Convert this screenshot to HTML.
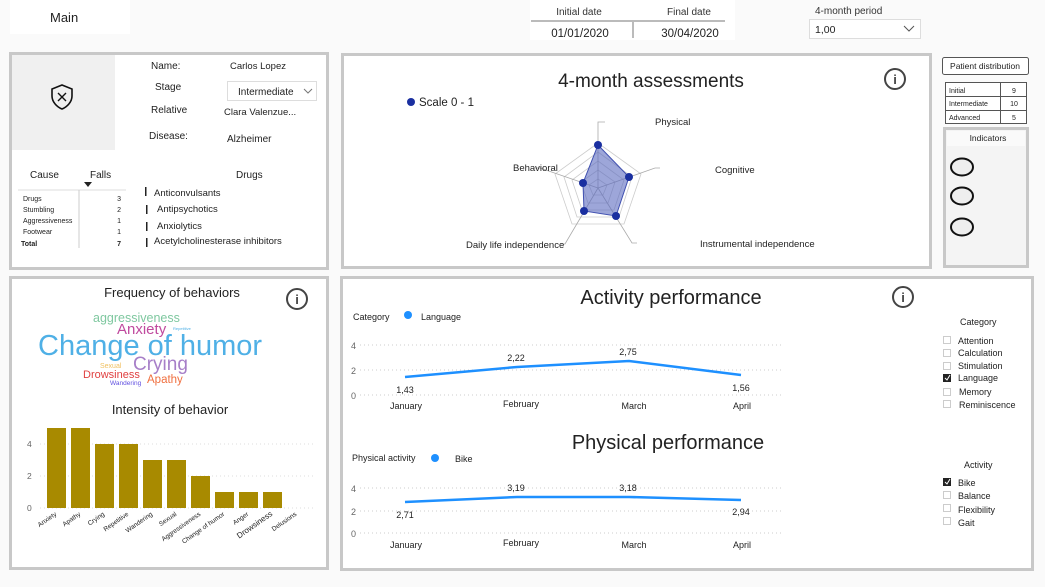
<!DOCTYPE html>
<html><head><meta charset="utf-8"><style>
html,body{margin:0;padding:0;background:#fafafa;}
svg{display:block;font-family:"Liberation Sans",sans-serif;}
</style></head><body>
<svg width="1045" height="587" viewBox="0 0 1045 587" xmlns="http://www.w3.org/2000/svg">
<rect width="1045" height="587" fill="#fafafa"/>
<!-- top bar -->
<rect x="10" y="0" width="120" height="34" fill="#fff"/>
<text x="50" y="22" font-size="13" fill="#222">Main</text>
<rect x="530" y="0" width="205" height="40" fill="#fff"/>
<text x="579" y="15" font-size="10" fill="#333" text-anchor="middle">Initial date</text>
<text x="689" y="15" font-size="10" fill="#333" text-anchor="middle">Final date</text>
<line x1="531" y1="21" x2="725" y2="21" stroke="#bbb" stroke-width="2"/>
<line x1="633" y1="20" x2="633" y2="38" stroke="#bbb" stroke-width="2"/>
<text x="580" y="37" font-size="11.5" fill="#222" text-anchor="middle">01/01/2020</text>
<text x="690" y="37" font-size="11.5" fill="#222" text-anchor="middle">30/04/2020</text>
<text x="815" y="14" font-size="10" fill="#333">4-month period</text>
<rect x="809.5" y="19.5" width="111" height="19" fill="#fff" stroke="#ddd"/>
<text x="815" y="33" font-size="10.5" fill="#222">1,00</text>
<polyline points="904,26 909,31 914,26" fill="none" stroke="#555" stroke-width="1"/>

<!-- panel borders -->
<g fill="#fff" stroke="#c8c8c8" stroke-width="3">
<rect x="10.5" y="53.5" width="317" height="215"/>
<rect x="342.5" y="54.5" width="588" height="213"/>
<rect x="10.5" y="277.5" width="317" height="291"/>
<rect x="341.5" y="277.5" width="691" height="292"/>
<rect x="944.5" y="128.5" width="83" height="138" fill="#f4f4f4"/>
</g>

<!-- patient info -->
<rect x="12" y="55" width="103" height="95" fill="#f0f0f0"/>
<path d="M62 85 L52 89 V96 C52 102 57 107 62 109 C67 107 72 102 72 96 V89 Z" fill="none" stroke="#111" stroke-width="1.6"/>
<path d="M58 93 L66 101 M66 93 L58 101" stroke="#111" stroke-width="1.4"/>
<g font-size="10" fill="#222">
<text x="151" y="69">Name:</text>
<text x="230" y="69" font-size="9.5">Carlos Lopez</text>
<text x="155" y="90">Stage</text>
<rect x="227.5" y="81.5" width="89" height="19" fill="#fff" stroke="#ddd"/>
<text x="238" y="95">Intermediate</text>
<polyline points="304,89 308,93 312,89" fill="none" stroke="#777" stroke-width="1"/>
<text x="151" y="113">Relative</text>
<text x="224" y="115" font-size="9.5">Clara Valenzue...</text>
<text x="149" y="139">Disease:</text>
<text x="227" y="142">Alzheimer</text>
</g>
<!-- falls table -->
<g fill="#222">
<text x="30" y="178" font-size="10">Cause</text>
<text x="90" y="178" font-size="10">Falls</text>
<path d="M84 182 L92 182 L88 187 Z"/>
<line x1="18" y1="190" x2="126" y2="190" stroke="#ddd"/>
<line x1="79" y1="190" x2="79" y2="248" stroke="#ccc"/>
<g font-size="7">
<text x="23" y="201">Drugs</text><text x="121" y="201" text-anchor="end">3</text>
<text x="23" y="212">Stumbling</text><text x="121" y="212" text-anchor="end">2</text>
<text x="23" y="223">Aggressiveness</text><text x="121" y="223" text-anchor="end">1</text>
<text x="23" y="234">Footwear</text><text x="121" y="234" text-anchor="end">1</text>
<text x="21" y="246" font-weight="bold">Total</text><text x="121" y="246" text-anchor="end" font-weight="bold">7</text>
</g>
<text x="236" y="178" font-size="10">Drugs</text>
<g font-size="9.5">
<rect x="145" y="187" width="1.5" height="9"/><text x="154" y="196">Anticonvulsants</text>
<rect x="146" y="205" width="1.5" height="9"/><text x="157" y="212">Antipsychotics</text>
<rect x="146" y="222" width="1.5" height="9"/><text x="157" y="229">Anxiolytics</text>
<rect x="146" y="238" width="1.5" height="9"/><text x="154" y="244">Acetylcholinesterase inhibitors</text>
</g>
</g>

<!-- radar -->
<text x="651" y="87" font-size="19" fill="#222" text-anchor="middle">4-month assessments</text>
<circle cx="895" cy="79" r="10" fill="none" stroke="#444" stroke-width="2"/>
<text x="895" y="84" font-size="13" font-weight="bold" fill="#444" text-anchor="middle">i</text>
<circle cx="411" cy="102" r="4" fill="#1a2fa0"/>
<text x="419" y="106" font-size="11.5" fill="#222">Scale 0 - 1</text>
<g fill="none" stroke="#ccc" stroke-width="0.8">
<polygon points="598,143 641,174 624,224 572,224 555,174"/>
<polygon points="598,152 632,177 619,217 577,217 564,177"/>
<polygon points="598,161 624,180 614,210 582,210 572,180"/>
<polygon points="598,170 615,182 608,203 588,203 581,182"/>
<polygon points="598,179 607,185 603,195 593,195 589,185"/>
</g>
<g fill="none" stroke="#aaa" stroke-width="0.8">
<polyline points="598,188 598,122 605,122"/>
<polyline points="598,188 655,168 660,168"/>
<polyline points="598,188 632,243 637,243"/>
<polyline points="598,188 565,244 560,244"/>
<polyline points="598,188 540,168 535,168"/>
</g>
<polygon points="598,145 629,177 616,216 584,211 583,183" fill="#5c6bc0" fill-opacity="0.6" stroke="#4050b0" stroke-width="1"/>
<g fill="#1a2fa0"><circle cx="598" cy="145" r="4"/><circle cx="629" cy="177" r="4"/><circle cx="616" cy="216" r="4"/><circle cx="584" cy="211" r="4"/><circle cx="583" cy="183" r="4"/></g>
<g font-size="9.5" fill="#222">
<text x="655" y="125">Physical</text>
<text x="715" y="173">Cognitive</text>
<text x="700" y="247">Instrumental independence</text>
<text x="466" y="248">Daily life independence</text>
<text x="513" y="171">Behavioral</text>
</g>

<!-- right side -->
<rect x="942.5" y="57.5" width="86" height="17" rx="2" fill="#fff" stroke="#555"/>
<text x="985" y="69" font-size="8.5" fill="#222" text-anchor="middle">Patient distribution</text>
<g stroke="#555" fill="#fff"><rect x="945.5" y="82.5" width="81" height="41"/></g>
<line x1="946" y1="96.5" x2="1026" y2="96.5" stroke="#555"/>
<line x1="946" y1="110.5" x2="1026" y2="110.5" stroke="#555"/>
<line x1="1000.5" y1="83" x2="1000.5" y2="123" stroke="#555"/>
<g font-size="7" fill="#222">
<text x="949" y="93">Initial</text><text x="1014" y="93" text-anchor="middle">9</text>
<text x="949" y="106">Intermediate</text><text x="1014" y="106" text-anchor="middle">10</text>
<text x="949" y="120">Advanced</text><text x="1014" y="120" text-anchor="middle">5</text>
</g>
<rect x="947" y="131" width="78" height="15" fill="#fafafa"/>
<text x="988" y="141" font-size="8.5" fill="#222" text-anchor="middle">Indicators</text>
<g fill="#eee" stroke="#111" stroke-width="2">
<ellipse cx="962" cy="167" rx="11" ry="8.5"/>
<ellipse cx="962" cy="196" rx="11" ry="8.5"/>
<ellipse cx="962" cy="227" rx="11" ry="8.5"/>
</g>

<!-- word cloud -->
<text x="172" y="297" font-size="13" fill="#222" text-anchor="middle">Frequency of behaviors</text>
<circle cx="297" cy="299" r="10" fill="none" stroke="#444" stroke-width="2"/>
<text x="297" y="304" font-size="13" font-weight="bold" fill="#444" text-anchor="middle">i</text>
<text x="93" y="322" font-size="12.5" fill="#7fc8a0">aggressiveness</text>
<text x="117" y="334" font-size="15" fill="#c04a9e">Anxiety</text>
<text x="173" y="330" font-size="4" fill="#4fb0e6">Repetitive</text>
<text x="38" y="355" font-size="29" fill="#4fb0e6">Change of humor</text>
<text x="133" y="370" font-size="19" fill="#a77fc8">Crying</text>
<text x="100" y="368" font-size="7" fill="#f0c060">Sexual</text>
<text x="83" y="378" font-size="11" fill="#e04040">Drowsiness</text>
<text x="147" y="383" font-size="11.5" fill="#f07040">Apathy</text>
<text x="110" y="385" font-size="6.5" fill="#6050e0">Wandering</text>

<!-- bar chart -->
<text x="170" y="414" font-size="13" fill="#222" text-anchor="middle">Intensity of behavior</text>
<g stroke="#ddd" stroke-dasharray="1,3"><line x1="40" y1="444" x2="315" y2="444"/><line x1="40" y1="476" x2="315" y2="476"/><line x1="40" y1="508" x2="315" y2="508"/></g>
<g font-size="8.5" fill="#666"><text x="27" y="447">4</text><text x="27" y="479">2</text><text x="27" y="511">0</text></g>
<g fill="#a88a00">
<rect x="47" y="428" width="19" height="80"/>
<rect x="71" y="428" width="19" height="80"/>
<rect x="95" y="444" width="19" height="64"/>
<rect x="119" y="444" width="19" height="64"/>
<rect x="143" y="460" width="19" height="48"/>
<rect x="167" y="460" width="19" height="48"/>
<rect x="191" y="476" width="19" height="32"/>
<rect x="215" y="492" width="19" height="16"/>
<rect x="239" y="492" width="19" height="16"/>
<rect x="263" y="492" width="19" height="16"/>
</g>
<g font-size="6.5" fill="#222" text-anchor="end">
<text transform="translate(57,515) rotate(-35)">Anxiety</text>
<text transform="translate(81,515) rotate(-35)">Apathy</text>
<text transform="translate(105,515) rotate(-35)">Crying</text>
<text transform="translate(129,515) rotate(-35)">Repetitive</text>
<text transform="translate(153,515) rotate(-35)">Wandering</text>
<text transform="translate(177,515) rotate(-35)">Sexual</text>
<text transform="translate(201,515) rotate(-35)">Aggressiveness</text>
<text transform="translate(225,515) rotate(-35)">Change of humor</text>
<text transform="translate(249,515) rotate(-35)">Anger</text>
<text transform="translate(273,515) rotate(-35)" font-size="8">Drowsiness</text>
<text transform="translate(297,515) rotate(-35)">Delusions</text>
</g>

<!-- activity performance -->
<text x="671" y="304" font-size="20" fill="#222" text-anchor="middle">Activity performance</text>
<circle cx="903" cy="297" r="10" fill="none" stroke="#444" stroke-width="2"/>
<text x="903" y="302" font-size="13" font-weight="bold" fill="#444" text-anchor="middle">i</text>
<text x="353" y="320" font-size="9" fill="#222">Category</text>
<circle cx="408" cy="315" r="4" fill="#1e90ff"/>
<text x="421" y="320" font-size="9" fill="#222">Language</text>
<g stroke="#ccc" stroke-dasharray="1,3"><line x1="360" y1="345" x2="782" y2="345"/><line x1="360" y1="370" x2="782" y2="370"/><line x1="360" y1="395" x2="782" y2="395"/></g>
<g font-size="9" fill="#666"><text x="351" y="349">4</text><text x="351" y="374">2</text><text x="351" y="399">0</text></g>
<polyline points="405,377 517,367 629,361 741,375" fill="none" stroke="#1e90ff" stroke-width="2.5"/>
<g font-size="9" fill="#222" text-anchor="middle">
<text x="405" y="393">1,43</text><text x="516" y="361">2,22</text><text x="628" y="355">2,75</text><text x="741" y="391">1,56</text>
<text x="406" y="409">January</text><text x="521" y="407">February</text><text x="634" y="409">March</text><text x="742" y="409">April</text>
</g>
<text x="960" y="325" font-size="9" fill="#222">Category</text>
<g fill="#fff" stroke="#ccc"><rect x="943.5" y="336.5" width="7" height="7"/><rect x="943.5" y="349.5" width="7" height="7"/><rect x="943.5" y="362.5" width="7" height="7"/><rect x="943.5" y="388.5" width="7" height="7"/><rect x="943.5" y="400.5" width="7" height="7"/></g>
<rect x="943" y="374" width="8" height="8" fill="#222"/>
<polyline points="945,378 947,380 950,375" fill="none" stroke="#fff" stroke-width="1"/>
<g font-size="9" fill="#222">
<text x="958" y="344">Attention</text><text x="958" y="356">Calculation</text><text x="958" y="369">Stimulation</text><text x="958" y="381">Language</text><text x="959" y="395">Memory</text><text x="959" y="408">Reminiscence</text>
</g>

<!-- physical performance -->
<text x="668" y="449" font-size="20" fill="#222" text-anchor="middle">Physical performance</text>
<text x="352" y="461" font-size="9" fill="#222">Physical activity</text>
<circle cx="435" cy="458" r="4" fill="#1e90ff"/>
<text x="455" y="462" font-size="9" fill="#222">Bike</text>
<g stroke="#ccc" stroke-dasharray="1,3"><line x1="360" y1="488" x2="782" y2="488"/><line x1="360" y1="511" x2="782" y2="511"/><line x1="360" y1="533" x2="782" y2="533"/></g>
<g font-size="9" fill="#666"><text x="351" y="492">4</text><text x="351" y="515">2</text><text x="351" y="537">0</text></g>
<polyline points="405,502 517,497 629,497 741,500" fill="none" stroke="#1e90ff" stroke-width="2.5"/>
<g font-size="9" fill="#222" text-anchor="middle">
<text x="405" y="518">2,71</text><text x="516" y="491">3,19</text><text x="628" y="491">3,18</text><text x="741" y="515">2,94</text>
<text x="406" y="548">January</text><text x="521" y="546">February</text><text x="634" y="548">March</text><text x="742" y="548">April</text>
</g>
<text x="964" y="468" font-size="9" fill="#222">Activity</text>
<rect x="943" y="478" width="8" height="8" fill="#222"/>
<polyline points="945,482 947,484 950,479" fill="none" stroke="#fff" stroke-width="1"/>
<g fill="#fff" stroke="#ccc"><rect x="943.5" y="491.5" width="7" height="7"/><rect x="943.5" y="504.5" width="7" height="7"/><rect x="943.5" y="517.5" width="7" height="7"/></g>
<g font-size="9" fill="#222">
<text x="958" y="486">Bike</text><text x="958" y="499">Balance</text><text x="958" y="513">Flexibility</text><text x="958" y="526">Gait</text>
</g>
</svg>
</body></html>
